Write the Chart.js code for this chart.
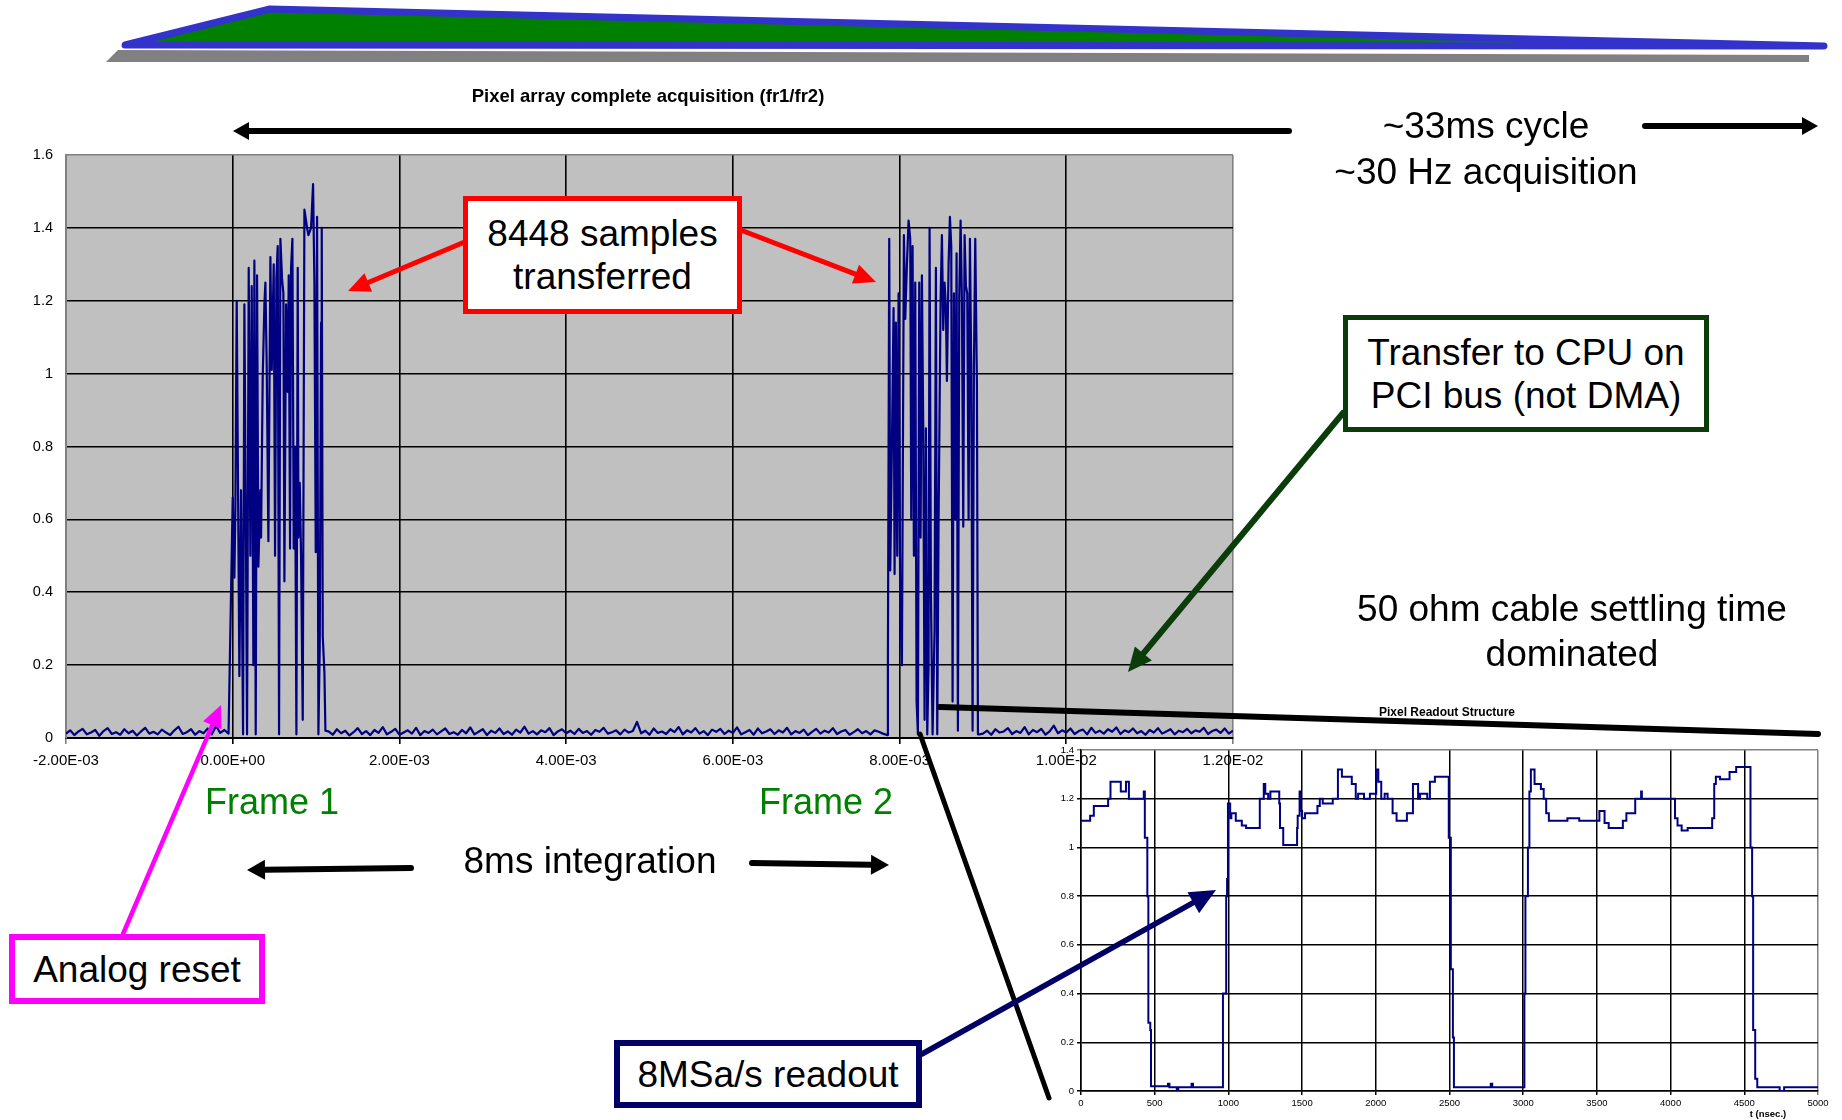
<!DOCTYPE html>
<html>
<head>
<meta charset="utf-8">
<script src="https://cdn.jsdelivr.net/npm/chart.js@4.4.1/dist/chart.umd.min.js"></script>
<style>
  html, body { margin: 0; padding: 0; background: #fff; }
  #pagina { position: relative; width: 1842px; height: 1120px; overflow: hidden; font-family: "Liberation Sans", Arial, sans-serif; }
  canvas { position: absolute; left: 0; top: 0; }
  .txt { position: absolute; z-index: 4; font-size: 37px; line-height: 45px; text-align: center; color: #000; white-space: nowrap; transform: translate(-50%, -50%); }
  .caixa { position: absolute; z-index: 4; box-sizing: border-box; background: #fff; display: flex; align-items: center; justify-content: center; text-align: center; font-size: 37px; line-height: 43px; white-space: nowrap; }
  .pequeno { font-size: 18.5px; line-height: 20px; font-weight: bold; }
</style>
</head>
<body>
<div id="pagina">
  <canvas id="graficoPrincipal" width="1842" height="1120" style="z-index:1"></canvas>
  <canvas id="graficoDetalhe" width="1842" height="1120" style="z-index:2"></canvas>
  <canvas id="setas" width="1842" height="1120" style="z-index:3"></canvas>

  <div class="txt pequeno" style="left:648px; top:96px;">Pixel array complete acquisition (fr1/fr2)</div>
  <div class="txt" style="left:1486px; top:149px; line-height:46px;">~33ms cycle<br>~30 Hz acquisition</div>
  <div class="caixa" style="left:463px; top:196px; width:279px; height:118px; border:5px solid #ff0000;">8448 samples<br>transferred</div>
  <div class="caixa" style="left:1343px; top:315px; width:366px; height:117px; border:5px solid #0b3d0b;">Transfer to CPU on<br>PCI bus (not DMA)</div>
  <div class="txt" style="left:1572px; top:631px;">50 ohm cable settling time<br>dominated</div>
  <div class="txt pequeno" style="left:1447px; top:712px; font-size:12px; line-height:13px;">Pixel Readout Structure</div>
  <div class="txt" style="left:272px; top:801px; font-size:36px; color:#008000;">Frame 1</div>
  <div class="txt" style="left:826px; top:801px; font-size:36px; color:#008000;">Frame 2</div>
  <div class="txt" style="left:590px; top:860px;">8ms integration</div>
  <div class="caixa" style="left:9px; top:934px; width:256px; height:70px; border:6px solid #ff00ff;">Analog reset</div>
  <div class="caixa" style="left:614px; top:1040px; width:308px; height:68px; border:6px solid #000066;">8MSa/s readout</div>
  <div class="txt pequeno" style="left:1768px; top:1113px; font-size:9.5px; line-height:11px;">t (nsec.)</div>
</div>

<script>
// eixo principal (tempo em ms, rotulos em segundos)
const rotulosX = ['-2.00E-03', '0.00E+00', '2.00E-03', '4.00E-03', '6.00E-03', '8.00E-03', '1.00E-02', '1.20E-02'];
const rotulosY = ['0', '0.2', '0.4', '0.6', '0.8', '1', '1.2', '1.4', '1.6'];

// ruido de fundo, amostras a cada 0.05 ms
const passoRuido = 0.05;
const inicioRuidoA = -2.0;
const ruidoA = [0.012,0.021,0.008,0.018,0.025,0.010,0.015,0.022,0.006,0.019,
  0.027,0.011,0.016,0.009,0.024,0.013,0.020,0.007,0.018,0.028,
  0.012,0.017,0.010,0.023,0.015,0.008,0.021,0.031,0.011,0.016,
  0.024,0.009,0.019,0.013,0.026,0.010,0.033,0.014,0.022,0.012];
const inicioRuidoB = 1.15;
const ruidoB = [0.018,0.009,0.024,0.013,0.020,0.007,0.016,0.027,0.011,0.019,
  0.008,0.022,0.014,0.030,0.010,0.017,0.025,0.009,0.015,0.021,
  0.012,0.028,0.008,0.019,0.014,0.023,0.010,0.018,0.026,0.011,
  0.016,0.009,0.022,0.013,0.029,0.010,0.017,0.024,0.008,0.020,
  0.014,0.026,0.011,0.018,0.009,0.023,0.015,0.031,0.012,0.019,
  0.010,0.021,0.016,0.027,0.008,0.018,0.024,0.013,0.020,0.011,
  0.025,0.014,0.019,0.009,0.022,0.017,0.028,0.012,0.016,0.021,
  0.010,0.023,0.015,0.019,0.044,0.013,0.020,0.009,0.026,0.014,
  0.018,0.011,0.024,0.016,0.030,0.010,0.021,0.015,0.027,0.012,
  0.019,0.008,0.023,0.017,0.025,0.011,0.020,0.014,0.029,0.010,
  0.016,0.022,0.009,0.026,0.013,0.018,0.024,0.011,0.021,0.015,
  0.028,0.010,0.019,0.014,0.023,0.008,0.017,0.025,0.012,0.020,
  0.015,0.027,0.011,0.018,0.022,0.009,0.016,0.024,0.013,0.019,
  0.010,0.021,0.017,0.012,0.008];
const inicioRuidoC = 9.0;
const ruidoC = [0.012,0.020,0.009,0.024,0.015,0.018,0.027,0.011,0.019,0.014,
  0.030,0.010,0.022,0.016,0.025,0.009,0.018,0.034,0.013,0.021,
  0.015,0.026,0.011,0.019,0.023,0.010,0.028,0.014,0.020,0.012,
  0.024,0.017,0.029,0.011,0.021,0.016,0.026,0.013,0.019,0.009,
  0.022,0.015,0.027,0.012,0.018,0.024,0.010,0.020,0.016,0.025,
  0.013,0.021,0.017,0.028,0.011,0.019,0.023,0.014,0.026,0.012,
  0.020];

// Frame 1
const quadro1Tempos = [0.000,0.020,0.032,0.048,0.080,0.100,0.124,0.140,0.160,0.172,
  0.192,0.212,0.228,0.248,0.260,0.276,0.292,0.308,0.332,0.340,
  0.360,0.380,0.392,0.408,0.428,0.452,0.468,0.492,0.508,0.524,
  0.540,0.556,0.572,0.592,0.608,0.620,0.640,0.660,0.672,0.688,
  0.700,0.716,0.732,0.748,0.764,0.780,0.788,0.804,0.820,0.840,
  0.860,0.880,0.892,0.908,0.940,0.964,0.980,0.996,1.012,1.028,
  1.044,1.060,1.068,1.080,1.100,1.112];
const quadro1Valores = [0.66,0.44,0.63,1.20,0.17,0.68,0.01,1.19,0.50,0.01,
  1.29,0.50,1.24,0.20,1.31,0.01,1.27,0.47,0.68,0.55,
  0.99,1.19,1.25,1.02,0.54,1.32,1.01,1.30,0.50,1.26,
  1.35,0.01,1.37,1.26,1.22,0.43,1.19,0.95,1.27,0.52,
  1.29,1.37,0.52,0.80,0.01,1.29,0.55,0.70,0.50,0.05,
  1.45,1.42,1.40,1.38,1.40,1.52,1.25,0.51,1.43,0.01,
  0.25,1.14,1.40,0.28,0.18,0.02];

// Frame 2
const quadro2Tempos = [7.860,7.876,7.888,7.908,7.928,7.940,7.956,7.972,7.988,8.008,
  8.028,8.052,8.068,8.088,8.108,8.128,8.140,8.156,8.172,8.188,
  8.204,8.220,8.236,8.252,8.268,8.284,8.300,8.316,8.332,8.348,
  8.360,8.376,8.396,8.420,8.436,8.452,8.468,8.492,8.508,8.524,
  8.540,8.556,8.568,8.588,8.604,8.620,8.636,8.652,8.668,8.684,
  8.700,8.716,8.732,8.748,8.764,8.780,8.796,8.812,8.828,8.844,
  8.860,8.876,8.892,8.908,8.928,8.940,8.956];
const quadro2Valores = [0.20,1.37,0.46,0.80,1.18,0.45,1.14,0.50,1.22,0.36,
  0.20,1.38,1.15,1.30,1.42,1.37,0.60,1.35,0.50,1.25,
  0.10,0.01,1.25,0.55,1.27,0.85,0.05,0.85,0.01,0.20,
  1.40,0.40,0.01,0.30,1.29,0.01,0.60,1.20,1.38,1.12,
  1.25,1.18,0.98,1.30,1.43,1.35,0.10,1.22,0.60,1.33,
  0.02,1.21,1.42,1.20,0.58,1.38,1.24,1.22,0.60,1.37,
  1.00,0.02,1.02,1.37,0.97,0.01,0.01];

// detalhe: Pixel Readout Structure (ns)
const rotulosXDetalhe = ['0','500','1000','1500','2000','2500','3000','3500','4000','4500','5000'];
const rotulosYDetalhe = ['0','0.2','0.4','0.6','0.8','1','1.2','1.4'];
const detalheTempos = [0,62,87,184,200,270,305,325,426,433,
  450,457,470,475,590,600,650,660,750,760,
  963,985,991,997,1012,1020,1050,1091,1120,1213,
  1240,1250,1270,1285,1345,1350,1372,1466,1470,1483,
  1490,1500,1520,1552,1604,1620,1640,1708,1743,1770,
  1837,1864,1880,1920,1960,2003,2017,2037,2060,2080,
  2114,2141,2211,2252,2287,2300,2349,2367,2401,2488,
  2495,2509,2523,2530,2780,2790,3008,3015,3032,3042,
  3052,3077,3120,3139,3156,3174,3300,3380,3517,3552,
  3580,3676,3700,3760,3800,3805,3910,4030,4047,4075,
  4116,4168,4282,4296,4307,4335,4400,4445,4497,4542,
  4553,4560,4574,4588,4602,4740,4770,5000];
const detalheValores = [1.11,1.13,1.17,1.20,1.27,1.23,1.27,1.20,1.23,1.04,
  0.80,0.28,0.25,0.02,0.03,0.015,0.00,0.015,0.03,0.015,
  0.40,0.80,0.87,1.18,1.12,1.14,1.11,1.09,1.08,1.20,
  1.26,1.22,1.20,1.23,1.18,1.08,1.01,1.08,1.13,1.23,
  1.15,1.12,1.14,1.14,1.17,1.20,1.18,1.20,1.32,1.29,
  1.26,1.20,1.22,1.20,1.22,1.32,1.27,1.20,1.22,1.20,
  1.14,1.11,1.14,1.26,1.20,1.22,1.20,1.27,1.29,1.29,
  1.04,0.50,0.22,0.015,0.03,0.015,0.40,0.80,1.00,1.23,
  1.32,1.26,1.24,1.20,1.14,1.11,1.12,1.11,1.15,1.10,
  1.08,1.11,1.14,1.20,1.23,1.20,1.20,1.12,1.09,1.07,
  1.08,1.08,1.12,1.26,1.29,1.28,1.31,1.33,1.33,1.00,
  0.80,0.25,0.05,0.015,0.015,0.00,0.015,0.015];

// monta os pontos na ordem do tempo
const pontosPrincipal = [];
ruidoA.forEach((v, i) => pontosPrincipal.push({ x: inicioRuidoA + i * passoRuido, y: v }));
quadro1Tempos.forEach((t, i) => pontosPrincipal.push({ x: t, y: quadro1Valores[i] }));
ruidoB.forEach((v, i) => pontosPrincipal.push({ x: inicioRuidoB + i * passoRuido, y: v }));
quadro2Tempos.forEach((t, i) => pontosPrincipal.push({ x: t, y: quadro2Valores[i] }));
ruidoC.forEach((v, i) => pontosPrincipal.push({ x: inicioRuidoC + i * passoRuido, y: v }));

const pontosDetalhe = detalheTempos.map((t, i) => ({ x: t, y: detalheValores[i] }));

const fundoCinza = {
  id: 'fundoCinza',
  beforeDraw(chart) {
    const a = chart.chartArea;
    const ctx = chart.ctx;
    ctx.save();
    ctx.fillStyle = '#c0c0c0';
    ctx.fillRect(a.left, a.top, a.right - a.left, a.bottom - a.top);
    ctx.restore();
  }
};

const fonte = "'Liberation Sans', Arial, sans-serif";

const graficoPrincipal = new Chart(document.getElementById('graficoPrincipal'), {
  type: 'line',
  data: {
    datasets: [{
      data: pontosPrincipal,
      borderColor: '#000080',
      borderWidth: 2.2,
      borderJoinStyle: 'round',
      pointRadius: 0,
      tension: 0,
      fill: false
    }]
  },
  options: {
    responsive: false,
    animation: false,
    events: [],
    layout: { padding: { left: 0, top: 155, right: 609, bottom: 342 } },
    plugins: { legend: { display: false }, tooltip: { enabled: false } },
    scales: {
      x: {
        type: 'linear', min: -2, max: 12,
        afterFit: s => { s.height = 40; },
        grid: {
          color: c => (c.tick && (c.tick.value === -2 || c.tick.value === 12)) ? '#808080' : '#000',
          lineWidth: 1.6, tickLength: 6
        },
        border: { color: '#000', width: 2 },
        ticks: {
          stepSize: 2, maxRotation: 0, autoSkip: false, padding: 8,
          color: '#000', font: { family: fonte, size: 15 },
          callback: v => rotulosX[Math.round((v + 2) / 2)]
        }
      },
      y: {
        min: 0, max: 1.6,
        afterFit: s => { s.width = 66; },
        grid: {
          color: c => (c.tick && Math.abs(c.tick.value - 1.6) < 1e-6) ? '#808080' : '#000',
          lineWidth: 1.6, drawTicks: false
        },
        border: { color: '#808080', width: 2 },
        ticks: {
          stepSize: 0.2, padding: 13, color: '#000',
          font: { family: fonte, size: 14.5 },
          callback: v => rotulosY[Math.round(v / 0.2)]
        }
      }
    }
  },
  plugins: [fundoCinza]
});

const graficoDetalhe = new Chart(document.getElementById('graficoDetalhe'), {
  type: 'line',
  data: {
    datasets: [{
      data: pontosDetalhe,
      borderColor: '#000080',
      borderWidth: 2,
      stepped: true,
      pointRadius: 0,
      fill: false
    }]
  },
  options: {
    responsive: false,
    animation: false,
    events: [],
    layout: { padding: { left: 1051, top: 750, right: 24, bottom: 9 } },
    plugins: { legend: { display: false }, tooltip: { enabled: false } },
    scales: {
      x: {
        type: 'linear', min: 0, max: 5000,
        afterFit: s => { s.height = 20; },
        grid: {
          color: c => (c.tick && c.tick.value === 5000) ? '#808080' : '#000',
          lineWidth: 1.5, tickLength: 4
        },
        border: { color: '#000', width: 1.5 },
        ticks: {
          stepSize: 500, maxRotation: 0, autoSkip: false, padding: 3,
          color: '#000', font: { family: fonte, size: 9.5 },
          callback: v => rotulosXDetalhe[Math.round(v / 500)]
        }
      },
      y: {
        min: 0, max: 1.4,
        afterFit: s => { s.width = 30; },
        grid: {
          color: c => (c.tick && Math.abs(c.tick.value - 1.4) < 1e-6) ? '#808080' : '#000',
          lineWidth: 1.5, tickLength: 4
        },
        border: { color: '#000', width: 1.5 },
        ticks: {
          stepSize: 0.2, padding: 3, color: '#000',
          font: { family: fonte, size: 9.5 },
          callback: v => rotulosYDetalhe[Math.round(v / 0.2)]
        }
      }
    }
  }
});

// desenhos do slide (faixa, setas, linhas)
const ctx = document.getElementById('setas').getContext('2d');

function seta(x1, y1, x2, y2, cor, largura, cabeca, abertura) {
  const ang = Math.atan2(y2 - y1, x2 - x1);
  const bx = x2 - cabeca * Math.cos(ang);
  const by = y2 - cabeca * Math.sin(ang);
  ctx.strokeStyle = cor;
  ctx.lineWidth = largura;
  ctx.lineCap = 'round';
  ctx.beginPath();
  ctx.moveTo(x1, y1);
  ctx.lineTo(bx, by);
  ctx.stroke();
  ctx.fillStyle = cor;
  ctx.beginPath();
  ctx.moveTo(x2, y2);
  ctx.lineTo(bx + abertura * Math.sin(ang), by - abertura * Math.cos(ang));
  ctx.lineTo(bx - abertura * Math.sin(ang), by + abertura * Math.cos(ang));
  ctx.closePath();
  ctx.fill();
}

function linha(x1, y1, x2, y2, cor, largura) {
  ctx.strokeStyle = cor;
  ctx.lineWidth = largura;
  ctx.lineCap = 'round';
  ctx.beginPath();
  ctx.moveTo(x1, y1);
  ctx.lineTo(x2, y2);
  ctx.stroke();
}

// faixa do topo
ctx.lineJoin = 'round';
ctx.fillStyle = '#808080';
ctx.beginPath();
ctx.moveTo(106, 62); ctx.lineTo(118, 50); ctx.lineTo(1809, 55); ctx.lineTo(1809, 62);
ctx.closePath();
ctx.fill();
ctx.fillStyle = '#008000';
ctx.strokeStyle = '#3333cc';
ctx.lineWidth = 7;
ctx.beginPath();
ctx.moveTo(125, 45); ctx.lineTo(270, 9); ctx.lineTo(1824, 46);
ctx.closePath();
ctx.fill();
ctx.stroke();

// ciclo
seta(1289, 131, 233, 131, '#000', 6, 16, 9);
seta(1645, 126, 1818, 126, '#000', 6, 16, 9);

// 8448 samples
seta(467, 241, 348, 291, '#ff0000', 5, 22, 10);
seta(738, 229, 876, 282, '#ff0000', 5, 22, 10);

// Transfer to CPU
seta(1343, 413, 1128, 672, '#0b3d0b', 6, 24, 11);

// 8ms integration
seta(411, 868, 247, 870, '#000', 6, 18, 10);
seta(752, 863, 889, 865, '#000', 6, 18, 10);

// Analog reset
seta(123, 934, 221, 705, '#ff00ff', 4.5, 22, 10);

// linhas do zoom
linha(940, 707, 1818, 734, '#000', 6);
linha(920, 734, 1049, 1098, '#000', 5);

// 8MSa/s readout
seta(922, 1054, 1216, 890, '#000066', 5.5, 26, 12);
</script>
</body>
</html>
